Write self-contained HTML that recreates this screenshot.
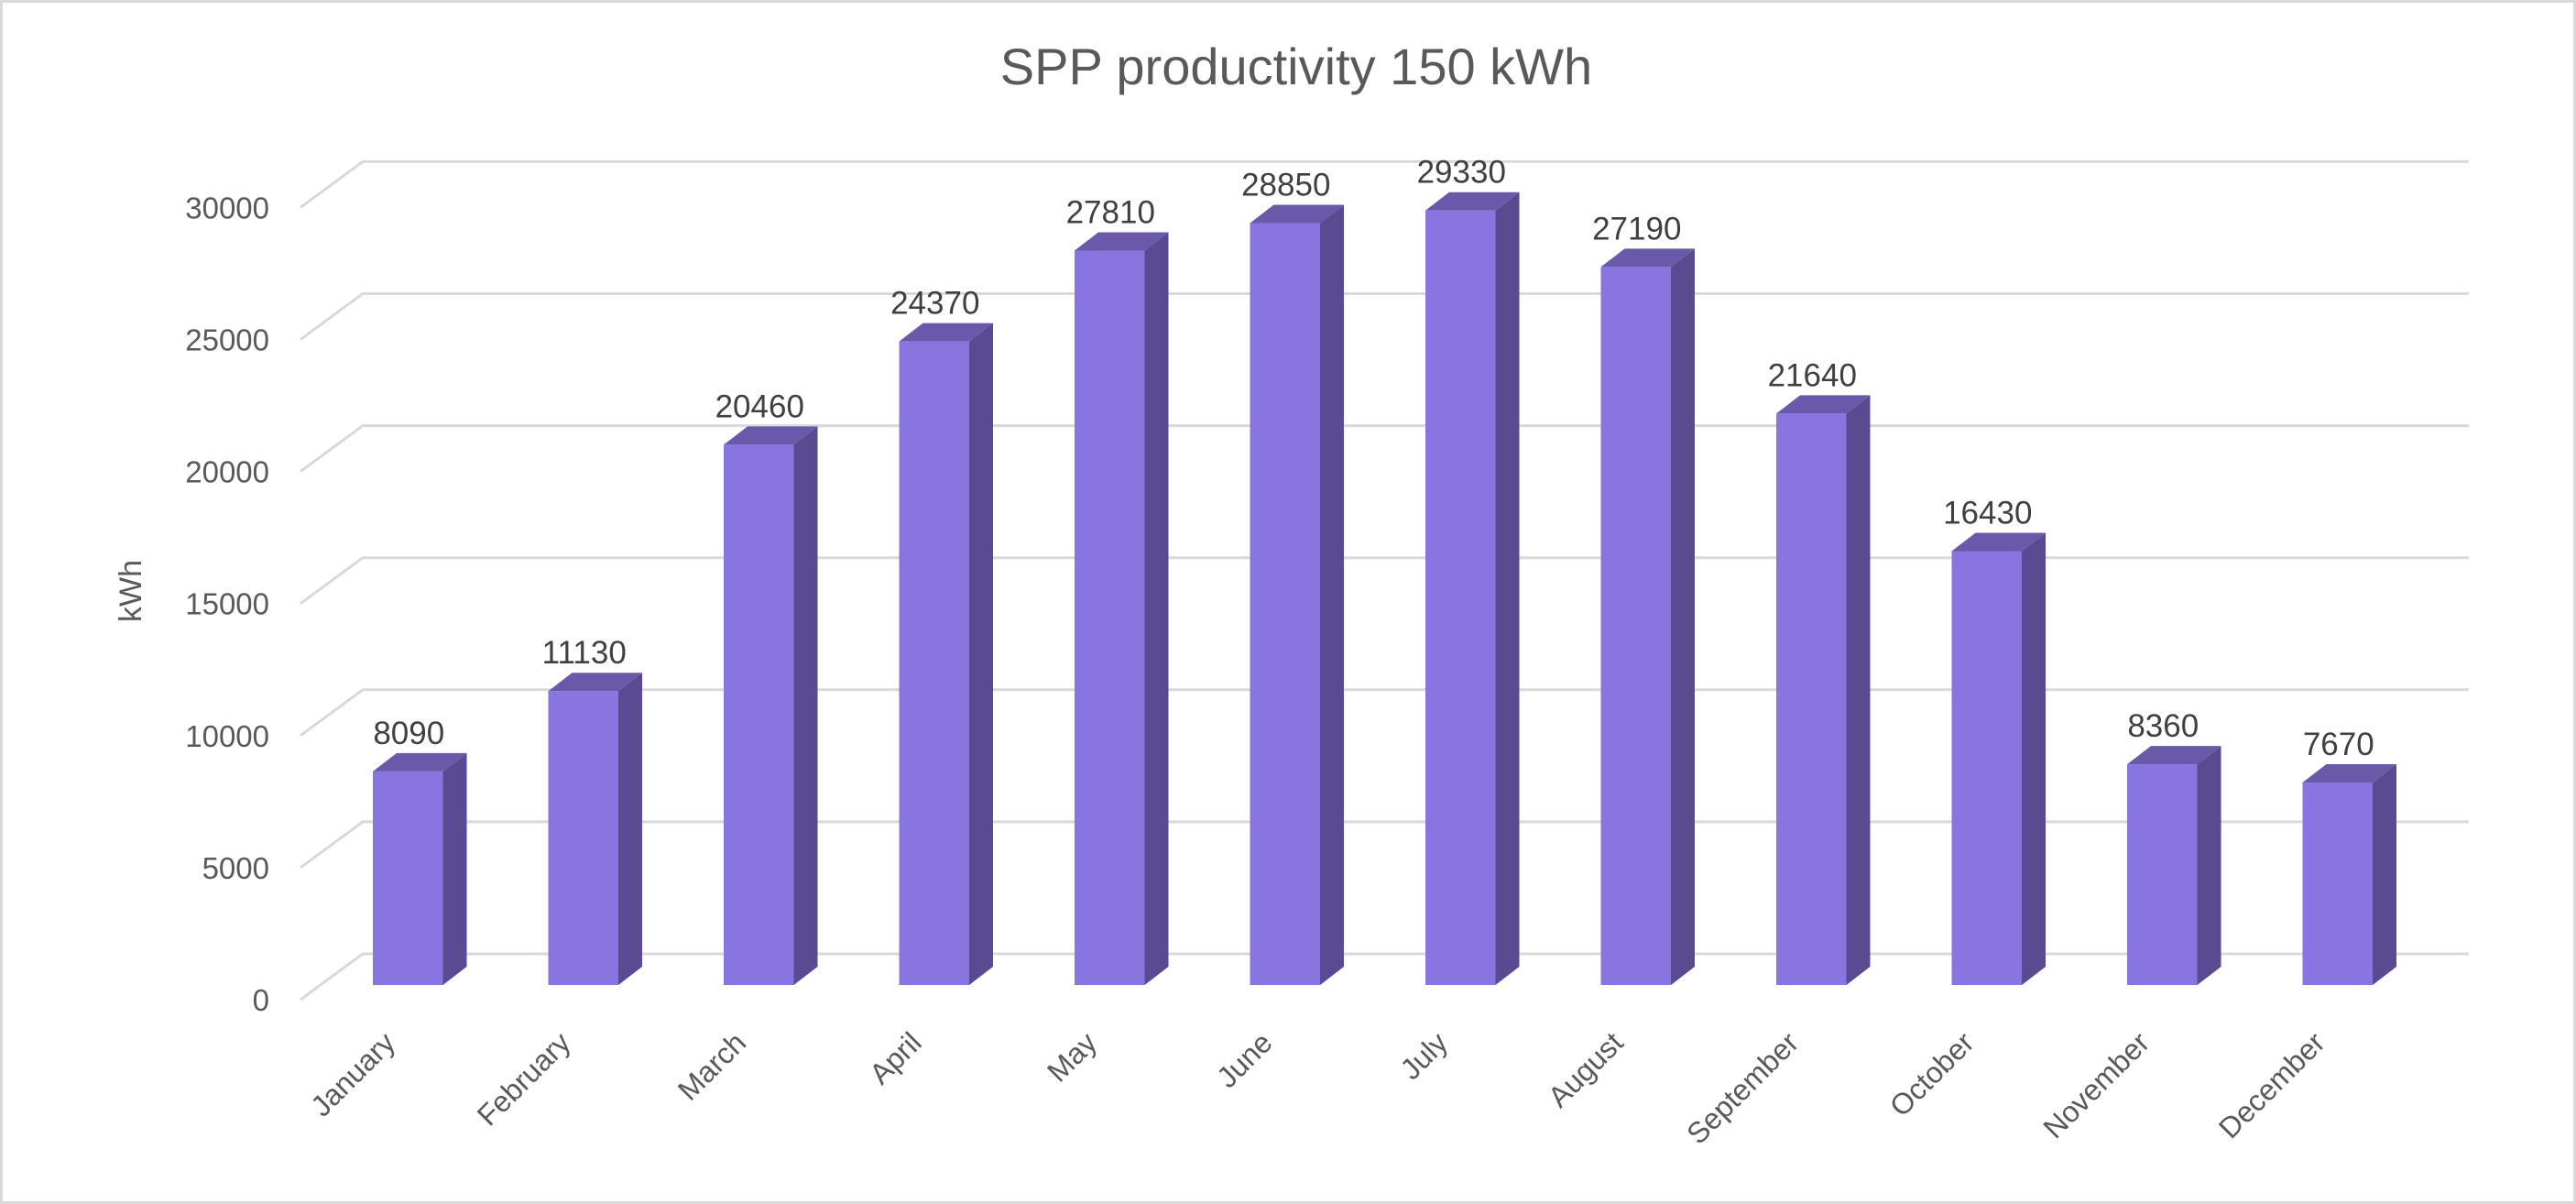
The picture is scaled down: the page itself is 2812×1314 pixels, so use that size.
<!DOCTYPE html>
<html><head><meta charset="utf-8"><style>
html,body{margin:0;padding:0;background:#fff}
svg{display:block}
text{font-family:"Liberation Sans","DejaVu Sans",sans-serif}
</style></head><body>
<svg id="chart" width="2812" height="1314" viewBox="0 0 2812 1314" xmlns="http://www.w3.org/2000/svg">
<rect x="1.5" y="1.5" width="2809" height="1311" fill="#fff" stroke="#d9d9d9" stroke-width="3"/>
<text x="1415" y="92" text-anchor="middle" font-size="56" fill="#595959">SPP productivity 150 kWh</text>
<text transform="translate(154,645) rotate(-90)" text-anchor="middle" font-size="34" fill="#595959">kWh</text>
<g id="grid"></g>
<g id="yticks"></g>
<g id="bars"></g>
<g id="xlabels"></g>
</svg>
<script>
const categories=["January","February","March","April","May","June","July","August","September","October","November","December"];
const values=[8090,11130,20460,24370,27810,28850,29330,27190,21640,16430,8360,7670];
const yTicks=[0,5000,10000,15000,20000,25000,30000];
const NS="http://www.w3.org/2000/svg";
const backZero=1041,frontZero=1075,pxPer=144.1/5000;
const gridBackX=396,gridFrontX=328,gridRight=2695,gridDy=50;
const barX0=407,step=191.5,barW=76.5,dX=26,dY=20;
function yBack(v){return backZero-v*pxPer;}
function yFront(v){return frontZero-v*pxPer;}
function xBar(i){return barX0+i*step;}
function mk(tag,attrs,parent){const e=document.createElementNS(NS,tag);for(const k in attrs)e.setAttribute(k,attrs[k]);parent.appendChild(e);return e;}
const grid=document.getElementById('grid'),yt=document.getElementById('yticks'),bars=document.getElementById('bars'),xl=document.getElementById('xlabels');
yTicks.forEach(t=>{
  const y=yBack(t);
  const p=mk('polyline',{points:`${gridFrontX},${y+gridDy} ${gridBackX},${y} ${gridRight},${y}`,fill:'none',stroke:'#d9d9d9','stroke-width':3},grid);
  
  
  const tx=mk('text',{x:294,y:y+gridDy+12,'text-anchor':'end','font-size':33,fill:'#595959'},yt);
  tx.textContent=t;
  
  
});
values.forEach((v,i)=>{
  const x=xBar(i),yt0=yFront(v),yb=frontZero;
  const g=mk('g',{},bars);
  
  
  mk('polygon',{points:`${x+barW},${yb} ${x+barW+dX},${yb-dY} ${x+barW+dX},${yt0-dY} ${x+barW},${yt0}`,fill:'#594a91'},g);
  mk('polygon',{points:`${x},${yt0} ${x+dX},${yt0-dY} ${x+barW+dX},${yt0-dY} ${x+barW},${yt0}`,fill:'#6a58aa'},g);
  mk('rect',{x:x,y:yt0,width:barW,height:yb-yt0,fill:'#8875e0'},g);
  const lb=mk('text',{x:x+barW/2+1,y:yt0-dY-10,'text-anchor':'middle','font-size':35,fill:'#404040'},bars);
  lb.textContent=v;
  
  
  const cx=x+barW/2-12;
  const ml=mk('text',{transform:`translate(${cx},1140) rotate(-45)`,'text-anchor':'end','font-size':32,fill:'#595959'},xl);
  ml.textContent=categories[i];
  
  
});
</script>
</body></html>
